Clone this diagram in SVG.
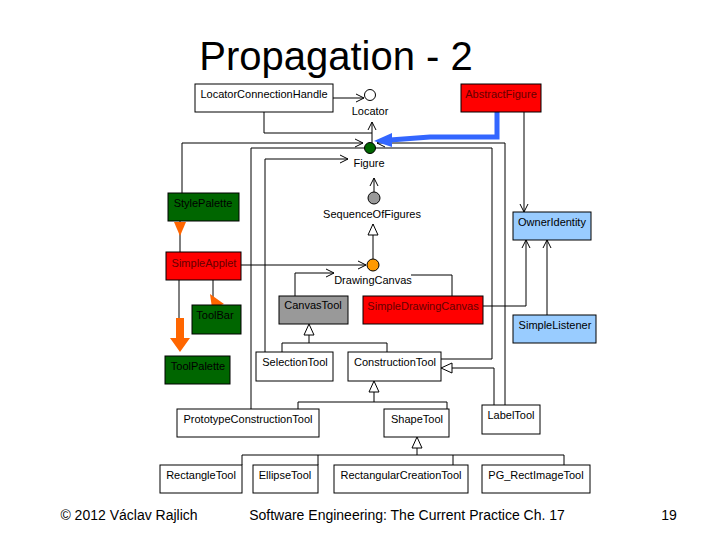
<svg xmlns="http://www.w3.org/2000/svg" width="720" height="540" viewBox="0 0 720 540">
<style>
text{font-family:"Liberation Sans",Arial,sans-serif;font-size:11px}
.b{stroke:#000;stroke-width:1}
.w{fill:#fff}.r{fill:#f00}.g{fill:#060}.gr{fill:#999}.bl{fill:#9cf}
.l{fill:none;stroke:#000;stroke-width:1}
.m{text-anchor:middle}
</style>
<defs>
<marker id="o" markerWidth="10" markerHeight="10" refX="9" refY="5" orient="auto" markerUnits="userSpaceOnUse"><path d="M1,1 L9,5 L1,9" fill="none" stroke="#000"/></marker>
<marker id="t" markerWidth="14" markerHeight="14" refX="12" refY="6" orient="auto" markerUnits="userSpaceOnUse"><path d="M1,1 L12,6 L1,11 Z" fill="#fff" stroke="#000"/></marker>
</defs>
<rect width="720" height="540" fill="#fff"/>
<text x="336" y="70" class="m" style="font-size:40px">Propagation - 2</text>
<g id="connectors">
<path class="l" d="M333,98 H364" marker-end="url(#o)"/>
<path class="l" d="M264,112 V133 H372"/>
<path class="l" d="M372,148 V122" marker-end="url(#o)"/>
<path class="l" d="M182,193 V143 H363" marker-end="url(#o)"/>
<path class="l" d="M505,405 V143 H377" marker-end="url(#o)"/>
<path class="l" d="M251,409 V148 H492 V359 H441"/>
<path class="l" d="M265,352 V159 H348" marker-end="url(#o)"/>
<path class="l" d="M374,192 V178" marker-end="url(#o)"/>
<path class="l" d="M524,112 V212" marker-end="url(#o)"/>
<path class="l" d="M483,306 H526 V240" marker-end="url(#o)"/>
<path class="l" d="M547,315 V240" marker-end="url(#o)"/>
<path class="l" d="M241,265 H366" marker-end="url(#o)"/>
<path class="l" d="M373,259 V224" marker-end="url(#t)"/>
<path class="l" d="M295,296 V273 H334" marker-end="url(#o)"/>
<path class="l" d="M452,296 V275 H411"/>
<path class="l" d="M180,221 V252"/>
<path class="l" d="M213,280 V300"/>
<path class="l" d="M179,280 V320"/>
<path d="M174,222 L186,222 L180,236 Z" fill="#f60"/>
<path d="M210,294 L224,304 L212,308 Z" fill="#f60"/>
<path d="M176,318 H184 V338 H190 L180,352 L170,338 H176 Z" fill="#f60"/>
<path d="M497,112 V137 H430 L390,140" fill="none" stroke="#36f" stroke-width="5"/>
<path d="M374,141 L392,133 L392,147 Z" fill="#36f"/>
<path class="l" d="M309,335 V343 H282 V352 M309,343 H387 V352"/>
<path d="M309,324 L304,335 L314,335 Z" fill="#fff" stroke="#000"/>
<path class="l" d="M494,405 V368 H452"/>
<path d="M441,368 L452,363 L452,373 Z" fill="#fff" stroke="#000"/>
<path class="l" d="M374,392 V402 H298 V409 M374,402 H447 V409"/>
<path d="M374,381 L369,392 L379,392 Z" fill="#fff" stroke="#000"/>
<path class="l" d="M417,448 V455 H242 V465 M417,455 H564 V465 M318,455 V465 M453,455 V465"/>
<path d="M417,437 L412,448 L422,448 Z" fill="#fff" stroke="#000"/>
</g>
<g id="Locator"><circle cx="370" cy="95" r="5.5" fill="#fff" stroke="#000"/><text x="370" y="115" class="m">Locator</text></g>
<g id="Figure"><circle cx="370" cy="148" r="5.5" fill="#060" stroke="#000"/><text x="369" y="167" class="m">Figure</text></g>
<g id="SequenceOfFigures"><circle cx="374" cy="198" r="6" fill="#999" stroke="#000"/><text x="372" y="218" class="m">SequenceOfFigures</text></g>
<g id="DrawingCanvas"><circle cx="373" cy="265" r="6" fill="#f90" stroke="#000"/><text x="373" y="284" class="m">DrawingCanvas</text></g>
<g id="LocatorConnectionHandle"><rect x="195" y="84" width="138" height="28" class="b w"/><text x="264" y="98" class="m">LocatorConnectionHandle</text></g>
<g id="AbstractFigure"><rect x="461" y="84" width="80" height="28" class="b r"/><text x="501" y="98" class="m" fill="#600">AbstractFigure</text></g>
<g id="StylePalette"><rect x="168" y="193" width="71" height="28" class="b g"/><text x="203" y="207" class="m">StylePalette</text></g>
<g id="OwnerIdentity"><rect x="513" y="212" width="78" height="28" class="b bl"/><text x="552" y="226" class="m">OwnerIdentity</text></g>
<g id="SimpleApplet"><rect x="166" y="252" width="75" height="28" class="b r"/><text x="204" y="267" class="m" fill="#600">SimpleApplet</text></g>
<g id="CanvasTool"><rect x="279" y="296" width="69" height="28" class="b gr"/><text x="313" y="309" class="m">CanvasTool</text></g>
<g id="SimpleDrawingCanvas"><rect x="363" y="296" width="120" height="28" class="b r"/><text x="423" y="310" class="m" fill="#600">SimpleDrawingCanvas</text></g>
<g id="ToolBar"><rect x="192" y="305" width="49" height="29" class="b g"/><text x="215" y="319" class="m">ToolBar</text></g>
<g id="SimpleListener"><rect x="513" y="315" width="83" height="28" class="b bl"/><text x="555" y="329" class="m">SimpleListener</text></g>
<g id="ToolPalette"><rect x="165" y="356" width="65" height="28" class="b g"/><text x="198" y="370" class="m">ToolPalette</text></g>
<g id="SelectionTool"><rect x="256" y="352" width="77" height="29" class="b w"/><text x="295" y="366" class="m">SelectionTool</text></g>
<g id="ConstructionTool"><rect x="348" y="352" width="93" height="29" class="b w"/><text x="395" y="366" class="m">ConstructionTool</text></g>
<g id="LabelTool"><rect x="482" y="405" width="58" height="29" class="b w"/><text x="511" y="419" class="m">LabelTool</text></g>
<g id="PrototypeConstructionTool"><rect x="177" y="409" width="142" height="28" class="b w"/><text x="248" y="423" class="m">PrototypeConstructionTool</text></g>
<g id="ShapeTool"><rect x="384" y="409" width="65" height="28" class="b w"/><text x="417" y="423" class="m">ShapeTool</text></g>
<g id="RectangleTool"><rect x="160" y="465" width="82" height="28" class="b w"/><text x="201" y="479" class="m">RectangleTool</text></g>
<g id="EllipseTool"><rect x="253" y="465" width="65" height="28" class="b w"/><text x="285" y="479" class="m">EllipseTool</text></g>
<g id="RectangularCreationTool"><rect x="334" y="465" width="134" height="28" class="b w"/><text x="401" y="479" class="m">RectangularCreationTool</text></g>
<g id="PG_RectImageTool"><rect x="482" y="465" width="108" height="28" class="b w"/><text x="536" y="479" class="m">PG_RectImageTool</text></g>
<text x="129" y="520" class="m" style="font-size:14px">© 2012 Václav Rajlich</text>
<text x="407" y="520" class="m" style="font-size:14px">Software Engineering: The Current Practice   Ch. 17</text>
<text x="669" y="520" class="m" style="font-size:14px">19</text>
</svg>
